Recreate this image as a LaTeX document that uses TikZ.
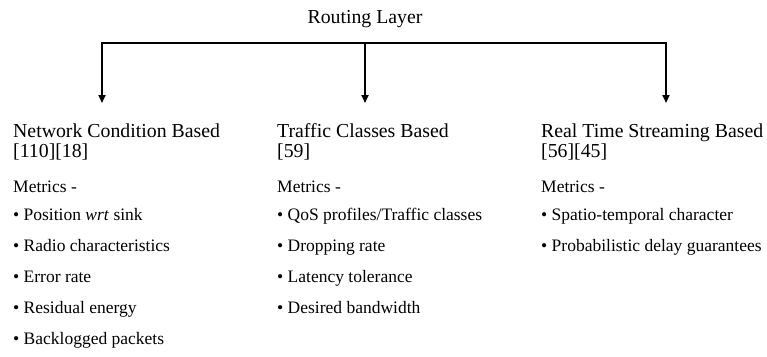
\documentclass[tikz,border=0pt]{standalone}
\usepackage{fontspec}
\setmainfont{Liberation Serif}
\usetikzlibrary{arrows.meta}

\tikzstyle{head}=[anchor=base west,inner sep=0pt,font=\fontsize{19.8}{22}\selectfont]
\tikzstyle{item}=[anchor=base west,inner sep=0pt,font=\fontsize{17.5}{20}\selectfont]
\tikzstyle{bar}=[line width=1.8pt,line cap=rect]
\tikzstyle{arrow}=[line width=1.8pt,-{Triangle[length=8pt,width=7pt]}]

\begin{document}
\begin{tikzpicture}[x=1pt,y=-1pt]
  \useasboundingbox (0,0) rectangle (767,356);

  \node (root)[head,anchor=base] at (365,23) {Routing Layer};

  % branch points and arrow tips
  \coordinate (b1) at (102,43);
  \coordinate (b2) at (365,43);
  \coordinate (b3) at (666,43);
  \coordinate (t1) at (102,103);
  \coordinate (t2) at (365,103);
  \coordinate (t3) at (666,103);

    \draw[bar] (b1) -- (b3);
    \foreach \j in {1, ..., 3}{
        \draw[arrow] (b\j) -- (t\j);
    }

  % columns
  \node (net)[head] at (13,137) {Network Condition Based};
  \node (netref)[head] at (13,157) {[110][18]};
  \node (netm)[item] at (13,192) {Metrics -};
  \foreach \t [count=\i] in {{Position \textit{wrt} sink}, Radio characteristics,
      Error rate, Residual energy, Backlogged packets}{
      \node (net\i)[item] at (13,{189+31*\i}) {• \t};
  }

  \node (tra)[head] at (277,137) {Traffic Classes Based};
  \node (traref)[head] at (277,157) {[59]};
  \node (tram)[item] at (277,192) {Metrics -};
  \foreach \t [count=\i] in {QoS profiles/Traffic classes, Dropping rate,
      Latency tolerance, Desired bandwidth}{
      \node (tra\i)[item] at (277,{189+31*\i}) {• \t};
  }

  \node (rts)[head] at (541,137) {Real Time Streaming Based};
  \node (rtsref)[head] at (541,157) {[56][45]};
  \node (rtsm)[item] at (541,192) {Metrics -};
  \foreach \t [count=\i] in {Spatio-temporal character, Probabilistic delay guarantees}{
      \node (rts\i)[item] at (541,{189+31*\i}) {• \t};
  }
\end{tikzpicture}
\end{document}
